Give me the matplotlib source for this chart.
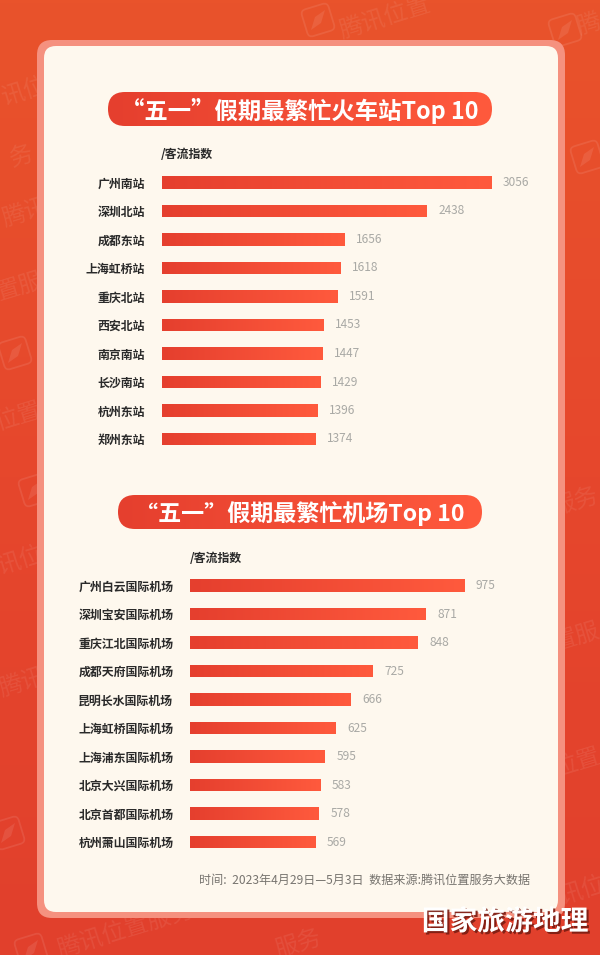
"""Busiest stations and airports during the May Day holiday"""

import matplotlib.pyplot as plt
import numpy as np
from matplotlib.colors import LinearSegmentedColormap
from matplotlib.patches import FancyBboxPatch, Polygon
from matplotlib import patheffects as pe
from matplotlib.transforms import Affine2D

plt.rcParams['font.family'] = ['Noto Sans CJK SC', 'DejaVu Sans']

stations = ["广州南站", "深圳北站", "成都东站", "上海虹桥站", "重庆北站",
            "西安北站", "南京南站", "长沙南站", "杭州东站", "郑州东站"]
station_vals = [3056, 2438, 1656, 1618, 1591, 1453, 1447, 1429, 1396, 1374]

airports = ["广州白云国际机场", "深圳宝安国际机场", "重庆江北国际机场", "成都天府国际机场",
            "昆明长水国际机场", "上海虹桥国际机场", "上海浦东国际机场", "北京大兴国际机场",
            "北京首都国际机场", "杭州萧山国际机场"]
airport_vals = [975, 871, 848, 725, 666, 625, 595, 583, 578, 569]

title1 = "“五一”假期最繁忙火车站Top 10"
title2 = "“五一”假期最繁忙机场Top 10"
unit_label = "/客流指数"
footer = "时间:  2023年4月29日—5月3日  数据来源:腾讯位置服务大数据"
brand = "国家旅游地理"

# only the parts of the watermark that show around the panel
marks = [("腾讯位置", 385, 17), ("讯位", 24, 91), ("务", 22, 157), ("腾讯", 25, 213), ("置服", 20, 287),
         ("位置", 18, 417), ("讯位", 20, 560), ("腾讯", 22, 683), ("腾讯位置服务", 125, 930),
         ("服务", 298, 945), ("腾", 589, 25), ("服务", 575, 503), ("置服", 577, 637),
         ("位置", 577, 763), ("讯位", 582, 890)]
icons = [(318, 20), (565, 30), (587, 157), (15, 353), (35, 490), (8, 833), (31, 950)]

W, H = 600, 955
TILT = 17
bar_cmap = LinearSegmentedColormap.from_list("bar", ["#e53f2e", "#ff5a3d"])
grad = np.linspace(0, 1, 256).reshape(1, -1)


def px_axes(fig, left, top, right, bottom):
    return fig.add_axes([left / W, 1 - bottom / H, (right - left) / W, (bottom - top) / H])


def draw_background(ax):
    bg = LinearSegmentedColormap.from_list("bg", ["#e9532b", "#e6472d", "#e1402c"])
    ax.imshow(np.linspace(0, 1, 256).reshape(-1, 1), cmap=bg, extent=(0, W, H, 0), aspect="auto", zorder=0)

    for text, x, y in marks:
        ax.text(x, y, text, color="white", alpha=0.08, fontsize=17, rotation=TILT,
                ha="center", va="center", rotation_mode="anchor", zorder=1)
    for x, y in icons:
        rot = Affine2D().rotate_deg_around(x, y, -TILT) + ax.transData
        ax.add_patch(FancyBboxPatch((x - 14, y - 14), 28, 28, boxstyle="round,pad=0,rounding_size=5",
                                    fc="none", ec="white", alpha=0.09, lw=1.3, zorder=1, transform=rot))
        ax.add_patch(Polygon([(x + 7, y - 10), (x + 3, y + 3), (x - 7, y + 10), (x - 3, y - 3)],
                             fc="white", ec="none", alpha=0.09, zorder=1))

    ax.add_patch(FancyBboxPatch((37, 40), 528, 878, boxstyle="round,pad=0,rounding_size=15",
                                fc="#f5917f", ec="none", zorder=2))
    ax.add_patch(FancyBboxPatch((44, 46), 514, 866, boxstyle="round,pad=0,rounding_size=12",
                                fc="#fef8ee", ec="none", zorder=3))


def draw_pill(ax, left, right, top, bottom, text, size):
    r = (bottom - top) / 2
    pill = FancyBboxPatch((left, top), right - left, bottom - top,
                          boxstyle=f"round,pad=0,rounding_size={r}", fc="none", ec="none", zorder=4)
    ax.add_patch(pill)
    img = ax.imshow(grad, cmap=bar_cmap, extent=(left, right, bottom, top), aspect="auto", zorder=4)
    img.set_clip_path(pill)
    ax.text((left + right) / 2, (top + bottom) / 2 + 1.5, text, color="white", fontsize=size,
            fontweight="bold", ha="center", va="center", zorder=5)


def draw_bars(fig, left, top, right, bottom, names, vals, vmin, px_per_unit):
    ax = px_axes(fig, left, top, right, bottom)
    ax.patch.set_alpha(0)
    y = np.arange(len(vals))
    bars = ax.barh(y, np.array(vals) - vmin, left=vmin, height=0.44, color="#f04a33")
    for bar, v, yi in zip(bars, vals, y):
        img = ax.imshow(grad, cmap=bar_cmap, extent=(vmin, v, yi + 0.22, yi - 0.22), aspect="auto", zorder=2)
        img.set_clip_path(bar)
        ax.annotate(str(v), (v, yi), xytext=(8.5, 0), textcoords="offset points", color="#a9a9a5",
                    fontsize=8.6, va="center")
    ax.set_xlim(vmin, vmin + (right - left) / px_per_unit)
    ax.set_ylim(len(vals) - 0.5, -0.5)
    ax.set_yticks(y, names, fontsize=8.6, color="#2a2a2a", fontweight="bold")
    ax.set_xticks([])
    ax.tick_params(axis="y", length=0, pad=12)
    for s in ax.spines.values():
        s.set_visible(False)
    return ax


def main():
    fig = plt.figure(figsize=(W / 100, H / 100), dpi=100)
    ax = fig.add_axes([0, 0, 1, 1])
    draw_background(ax)
    draw_pill(ax, 108, 492, 92, 126, title1, 16.8)
    draw_pill(ax, 118, 482, 495, 529, title2, 16.6)

    ax.text(161, 155, unit_label, fontsize=8.6, color="#2a2a2a", fontweight="bold", va="center", zorder=5)
    ax.text(190, 558, unit_label, fontsize=8.6, color="#2a2a2a", fontweight="bold", va="center", zorder=5)
    ax.text(530, 880, footer, fontsize=8.7, color="#77746f", ha="right", va="center", zorder=5)
    ax.text(505, 922, brand, fontsize=20, color="white", fontweight="bold", ha="center", va="center", zorder=6,
            path_effects=[pe.withSimplePatchShadow(offset=(1.5, -1.5), shadow_rgbFace="#7a1c12", alpha=0.9)])
    ax.set_xlim(0, W)
    ax.set_ylim(H, 0)
    ax.axis("off")

    draw_bars(fig, 161.5, 168.25, 545, 453.25, stations, station_vals, -85, 0.105)
    draw_bars(fig, 190, 571.25, 545, 856.25, airports, airport_vals, 228, 0.367)

    fig.savefig("out.png", dpi=100)


if __name__ == '__main__':
    main()
